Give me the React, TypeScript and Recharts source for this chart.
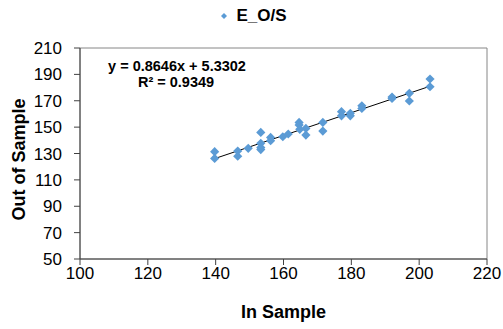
import { ScatterChart, Scatter, XAxis, YAxis, ReferenceLine, ReferenceArea, Legend, Customized } from 'recharts';

const inSample = [
  139.7, 139.7, 146.5, 146.5, 149.6, 153.3, 153.3, 153.3, 153.3, 156.2, 156.2,
  159.8, 161.4, 164.6, 164.6, 164.8, 166.6, 166.6, 171.6, 171.6, 177.1, 177.1,
  179.7, 179.7, 183.1, 183.1, 192.0, 192.0, 197.1, 197.1, 203.2, 203.2,
];
const outSample = [
  131.4, 126.3, 131.9, 127.9, 133.9, 146.0, 137.7, 134.5, 133.0, 142.2, 139.7,
  142.7, 144.8, 153.6, 151.6, 148.3, 149.0, 144.0, 153.6, 147.0, 161.7, 158.6,
  160.5, 158.6, 166.2, 164.2, 172.8, 171.8, 175.6, 169.8, 186.5, 180.6,
];
const xTicks = [100, 120, 140, 160, 180, 200, 220];
const yTicks = [50, 70, 90, 110, 130, 150, 170, 190, 210];

const slope = 0.8646;
const intercept = 5.3302;
const r2 = 0.9349;

const BLUE = '#5B9BD5';
const FONT = '"Liberation Sans", Arial, sans-serif';

const data = inSample.map((x, i) => ({ x, y: outSample[i] }));
const minX = Math.min(...inSample);
const maxX = Math.max(...inSample);

const Diamond = (props: any) => {
  const { cx, cy } = props;
  const r = 4.6;
  return <path d={`M${cx},${cy - r}L${cx + r},${cy}L${cx},${cy + r}L${cx - r},${cy}Z`} fill={BLUE} />;
};

const LegendContent = () => (
  <div style={{ display: 'flex', alignItems: 'center', justifyContent: 'center', fontFamily: FONT, fontWeight: 'bold', fontSize: 17, color: '#000', height: 24, paddingLeft: 18 }}>
    <svg width={12} height={12} style={{ marginRight: 6 }}>
      <path d="M6,3L9,6L6,9L3,6Z" fill={BLUE} />
    </svg>
    E_O/S
  </div>
);

const YTitle = ({ viewBox }: any) => {
  const x = viewBox.x + 19;
  const y = viewBox.y + viewBox.height / 2 + 6;
  return (
    <text x={x} y={y} transform={`rotate(-90 ${x} ${y})`} textAnchor="middle" dominantBaseline="central" fontFamily={FONT} fontWeight="bold" fontSize={18} fill="#000">
      Out of Sample
    </text>
  );
};

export default function App() {
  return (
    <div style={{ position: 'absolute', left: 0, top: 0, width: 503, height: 329, background: '#fff' }}>
      <ScatterChart width={503} height={329} margin={{ top: 24, right: 16, bottom: 0, left: 0 }}>
        <Legend verticalAlign="top" align="center" height={24} wrapperStyle={{ top: 4 }} content={<LegendContent />} />
        <ReferenceArea x1={100} x2={220} y1={50} y2={210} fill="none" stroke="#868686" strokeWidth={1} />
        <XAxis
          type="number"
          dataKey="x"
          domain={[100, 220]}
          ticks={xTicks}
          height={70}
          stroke="#404040"
          tickSize={6}
          tickMargin={2}
          tick={{ fill: '#000', fontSize: 17, fontFamily: FONT }}
          label={{ value: 'In Sample', position: 'insideBottom', offset: 11, fill: '#000', fontSize: 18, fontWeight: 'bold', fontFamily: FONT }}
        />
        <YAxis
          type="number"
          dataKey="y"
          domain={[50, 210]}
          ticks={yTicks}
          width={80}
          stroke="#404040"
          tickSize={6}
          tickMargin={12}
          tick={{ fill: '#000', fontSize: 17, fontFamily: FONT }}
          label={<YTitle />}
        />
        <Scatter name="E_O/S" data={data} fill={BLUE} shape={<Diamond />} isAnimationActive={false} />
        <ReferenceLine
          segment={[
            { x: minX, y: slope * minX + intercept },
            { x: maxX, y: slope * maxX + intercept },
          ]}
          stroke="#000"
          strokeWidth={1}
        />
        <Customized
          component={
            <g fontFamily={FONT} fontWeight="bold" fontSize={14.5} fill="#000">
              <text x={177} y={71} textAnchor="middle">{`y = ${slope}x + ${intercept}`}</text>
              <text x={176} y={87} textAnchor="middle">{`R² = ${r2}`}</text>
            </g>
          }
        />
      </ScatterChart>
    </div>
  );
}
